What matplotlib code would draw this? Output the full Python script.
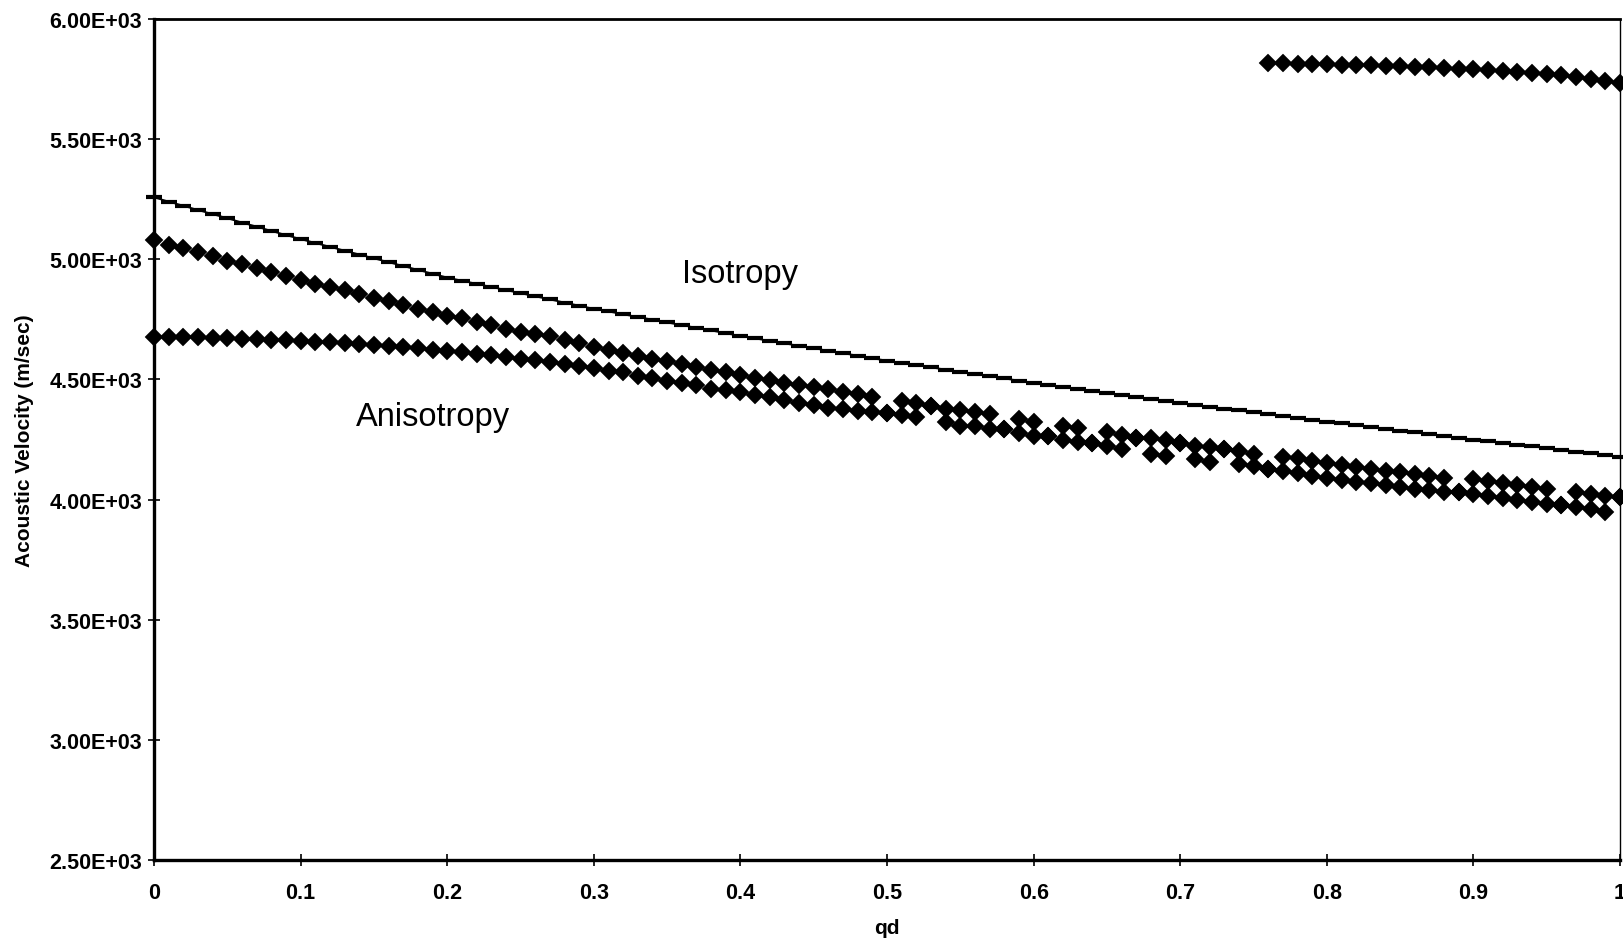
import numpy as np
import matplotlib
matplotlib.use("Agg")
import matplotlib.pyplot as plt
from matplotlib.ticker import FuncFormatter

plt.rcParams['font.family'] = ['Liberation Sans', 'DejaVu Sans']

# dimensionless wavenumber qd, sampled every 0.01
qd = np.round(np.arange(101) * 0.01, 2)

# isotropic phase velocity (m/sec)
v_iso = [
    5258, 5240, 5223, 5205, 5188, 5171, 5153, 5136, 5118, 5101, 5084,
    5068, 5052, 5036, 5020, 5004, 4988, 4972, 4956, 4940, 4924,
    4911, 4898, 4885, 4872, 4859, 4846, 4833, 4820, 4807, 4794,
    4783, 4771, 4760, 4749, 4737, 4726, 4715, 4704, 4692, 4681,
    4671, 4660, 4650, 4640, 4630, 4619, 4609, 4599, 4588, 4578,
    4569, 4560, 4550, 4541, 4532, 4523, 4514, 4504, 4495, 4486,
    4478, 4469, 4461, 4452, 4444, 4436, 4427, 4419, 4410, 4402,
    4394, 4386, 4379, 4371, 4363, 4355, 4347, 4340, 4332, 4324,
    4317, 4309, 4302, 4294, 4287, 4280, 4272, 4265, 4257, 4250,
    4243, 4236, 4228, 4221, 4214, 4207, 4200, 4192, 4185, 4178,
]

# anisotropic solution, faster mode
v_aniso_1 = [
    5080, 5060, 5045, 5031, 5012, 4994, 4979, 4963, 4948, 4931,
    4915, 4898, 4886, 4871, 4854, 4839, 4826, 4809, 4793, 4781,
    4765, 4754, 4737, 4727, 4712, 4698, 4689, 4679, 4664, 4651,
    4637, 4623, 4612, 4598, 4587, 4575, 4564, 4553, 4540, 4529,
    4518, 4508, 4499, 4487, 4476, 4469, 4460, 4449, 4439, 4425,
    4362, 4412, 4401, 4388, 4376, 4372, 4363, 4358, 4293, 4335,
    4324, 4265, 4307, 4296, 4234, 4282, 4268, 4258, 4258, 4250,
    4234, 4224, 4219, 4210, 4203, 4189, 4129, 4179, 4171, 4161,
    4152, 4143, 4136, 4129, 4121, 4113, 4106, 4099, 4091, 4030,
    4085, 4077, 4068, 4060, 4052, 4043, 3977, 4032, 4023, 4016,
    4009,
]

# anisotropic solution, slower mode
v_aniso_2 = [
    4677, 4677, 4676, 4675, 4674, 4672, 4670, 4668, 4666, 4663,
    4660, 4657, 4654, 4651, 4647, 4643, 4639, 4634, 4629, 4624,
    4619, 4613, 4607, 4600, 4593, 4586, 4579, 4571, 4563, 4555,
    4546, 4535, 4529, 4515, 4504, 4494, 4487, 4476, 4462, 4456,
    4446, 4435, 4425, 4414, 4404, 4393, 4383, 4376, 4370, 4363,
    4362, 4351, 4342, 4388, 4321, 4307, 4307, 4293, 4293, 4279,
    4263, 4265, 4249, 4238, 4234, 4224, 4210, 4258, 4189, 4182,
    4234, 4168, 4157, 4210, 4147, 4141, 4129, 4120, 4110, 4099,
    4088, 4081, 4074, 4067, 4060, 4054, 4046, 4039, 4032, 4030,
    4023, 4016, 4007, 3999, 3991, 3981, 3977, 3971, 3960, 3949,
    4009,
]

# upper branch that only shows up for qd >= 0.76
qd_high = np.round(np.arange(76, 101) * 0.01, 2)
v_aniso_high = [
    5815, 5815, 5814, 5813, 5811, 5810, 5809, 5807, 5806, 5803,
    5802, 5799, 5796, 5793, 5791, 5786, 5784, 5779, 5775, 5771,
    5766, 5758, 5750, 5742, 5732,
]

y_ticks = [2500, 3000, 3500, 4000, 4500, 5000, 5500, 6000]
x_ticks = [0, 0.1, 0.2, 0.3, 0.4, 0.5, 0.6, 0.7, 0.8, 0.9, 1.0]
x_labels = ['0', '0.1', '0.2', '0.3', '0.4', '0.5', '0.6', '0.7', '0.8', '0.9', '1']

fig = plt.figure(figsize=(16.23, 9.45), dpi=100)
ax = fig.add_axes([0.0949, 0.0889, 0.9033, 0.8899])

ax.plot(qd, v_iso, color='black', lw=1.3, marker='_', ms=11, mew=3.0,
        clip_on=False, zorder=3)
diamond = dict(ls='none', marker='D', ms=9.6, mew=0.3, color='black',
               clip_on=False, zorder=4)
ax.plot(qd, v_aniso_1, **diamond)
ax.plot(qd, v_aniso_2, **diamond)
ax.plot(qd_high, v_aniso_high, **diamond)

ax.set_xlim(0, 1)
ax.set_ylim(2500, 6000)
ax.set_yticks(y_ticks)
ax.yaxis.set_major_formatter(FuncFormatter(lambda v, pos: f"{v:.2E}"))
ax.set_xticks(x_ticks)
ax.set_xticklabels(x_labels)

ax.tick_params(direction='inout', length=9, width=1.2, labelsize=15.5, color='black')
ax.tick_params(axis='y', pad=4)
ax.tick_params(axis='x', pad=11)
for lab in ax.get_xticklabels() + ax.get_yticklabels():
    lab.set_fontweight('bold')

for side, lw in [('left', 2.4), ('bottom', 2.4), ('top', 2.0), ('right', 1.0)]:
    ax.spines[side].set_linewidth(lw)
    ax.spines[side].set_color('black')

ax.set_xlabel('qd', fontsize=15, fontweight='bold', labelpad=11)
ax.set_ylabel('Acoustic Velocity (m/sec)', fontsize=15, fontweight='bold', labelpad=11)

ax.text(0.40, 4943, 'Isotropy', fontsize=23.5, ha='center', va='center')
ax.text(0.19, 4347, 'Anisotropy', fontsize=23.5, ha='center', va='center')

fig.savefig('out.png', dpi=100)
